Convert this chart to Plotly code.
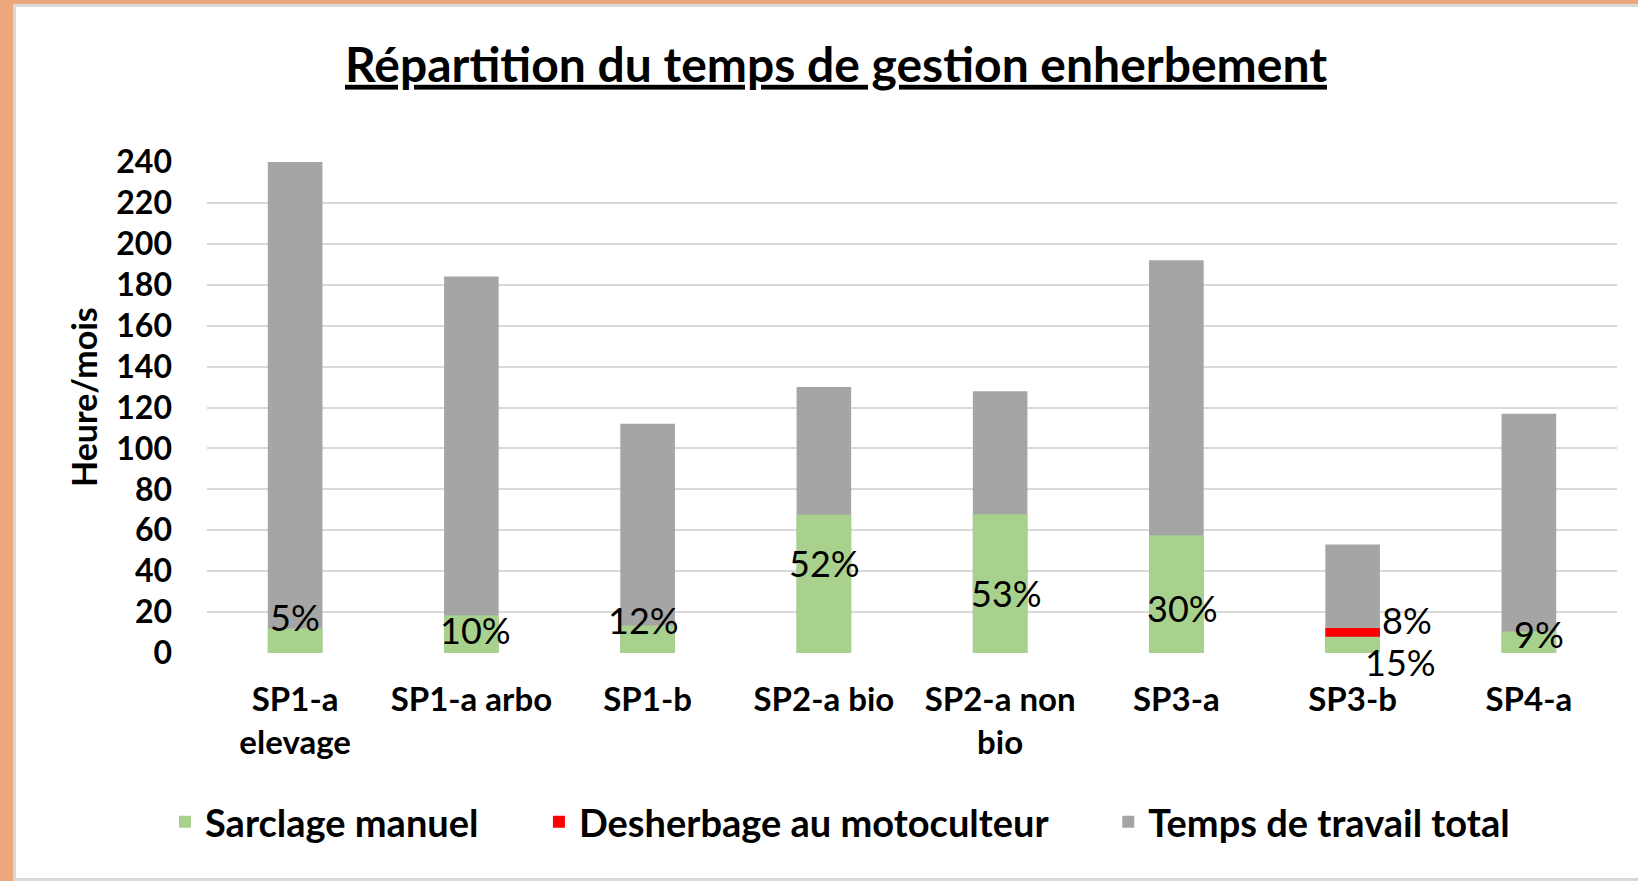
import plotly.graph_objects as go

categories = ["SP1-a<br>elevage", "SP1-a arbo", "SP1-b", "SP2-a bio", "SP2-a non<br>bio", "SP3-a", "SP3-b", "SP4-a"]
total_hours = [240, 184, 112, 130, 128, 192, 53, 117]
sarclage_hours = [12, 18.4, 13.4, 67.6, 67.8, 57.6, 8.0, 10.5]
desherbage_hours = [0, 0, 0, 0, 0, 0, 4.2, 0]
sarclage_labels = ["5%", "10%", "12%", "52%", "53%", "30%", "15%", "9%"]
desherbage_labels = ["", "", "", "", "", "", "8%", ""]
y_ticks = [0, 20, 40, 60, 80, 100, 120, 140, 160, 180, 200, 220, 240]

# label anchor heights (data units) and offsets (px), as placed on the original chart
sarclage_label_y = [17.4, 11.2, 15.9, 43.9, 29.1, 22.0, 0, 9.3]
sarclage_label_dy = [0, 0, 0, 0, 0, 0, -9, 0]
sarclage_label_dx = [0, 4, -4, 1, 6, 6, 48, 10]
desherbage_label_y = [None, None, None, None, None, None, 16.3, None]
desherbage_label_dx = [0, 0, 0, 0, 0, 0, 54, 0]

GREEN = "#A9D18E"
RED = "#FF0000"
GRAY = "#A5A5A5"
FONT = "Lato"
PAD = "\u00a0" * 6  # extra spacing between legend entries

W, H = 1638, 881
ML, MR, MT, MB = 207, 21, 162, 228
PW, PH = W - ML - MR, H - MT - MB

fig = go.Figure()
fig.add_trace(go.Bar(x=categories, y=total_hours, name="Temps de travail total",
                     marker=dict(color=GRAY, line=dict(width=0)), legendrank=3))
fig.add_trace(go.Bar(x=categories, y=sarclage_hours, name="Sarclage manuel" + PAD,
                     marker=dict(color=GREEN, line=dict(width=0)), legendrank=1))
fig.add_trace(go.Bar(x=categories, y=desherbage_hours, base=sarclage_hours,
                     name="Desherbage au motoculteur" + PAD,
                     marker=dict(color=RED, line=dict(width=0)), legendrank=2))

LBL_FONT = dict(family=FONT, size=36, color="#000")
annots = []
for i, c in enumerate(categories):
    annots.append(dict(x=c, y=sarclage_label_y[i], text=sarclage_labels[i], showarrow=False,
                       xshift=sarclage_label_dx[i], yshift=sarclage_label_dy[i], font=LBL_FONT))
    if desherbage_labels[i]:
        annots.append(dict(x=c, y=desherbage_label_y[i], text=desherbage_labels[i], showarrow=False,
                           xshift=desherbage_label_dx[i], font=LBL_FONT))


def px_x(p):
    return (p - ML) / PW


def px_y(p):
    return 1 - (p - MT) / PH


# y-axis title
annots.append(dict(text="Heure/mois", textangle=-90, showarrow=False,
                   xref="paper", yref="paper", x=px_x(83), y=px_y(397),
                   xanchor="center", yanchor="middle",
                   font=dict(family=FONT, size=34, weight="bold", color="#000")))

# frame of the chart area (white card with a light grey border on orange background)
shapes = [dict(type="rect", xref="paper", yref="paper",
               x0=px_x(14.5), x1=px_x(1645), y0=px_y(879.5), y1=px_y(5.5),
               fillcolor="white", line=dict(color="#D9D9D9", width=3), layer="below")]

fig.update_layout(
    width=W, height=H,
    margin=dict(l=ML, r=MR, t=MT, b=MB, autoexpand=False),
    paper_bgcolor="#ECA87C",
    plot_bgcolor="white",
    barmode="overlay",
    bargap=0.69,
    font=dict(family=FONT, color="#000"),
    title=dict(text="<u>Répartition du temps de gestion enherbement</u>",
               font=dict(family=FONT, size=48, weight="bold", color="#000"),
               x=836 / W, xref="container", xanchor="center",
               y=1 - 65 / H, yref="container", yanchor="middle"),
    xaxis=dict(showgrid=False, showline=False, ticks="", zeroline=False,
               tickfont=dict(family=FONT, size=33, weight="bold", color="#000"),
               ticklabelstandoff=24),
    yaxis=dict(range=[0, 240], tickvals=y_ticks, showgrid=True, gridcolor="#D9D9D9", gridwidth=2,
               zeroline=False, showline=False, ticks="",
               tickfont=dict(family=FONT, size=32, weight="bold", color="#000"),
               ticklabelstandoff=34),
    legend=dict(orientation="h", xref="container", x=840 / W, xanchor="center",
                yref="container", y=1 - 822 / H, yanchor="middle",
                font=dict(family=FONT, size=38, weight="bold", color="#000"),
                bgcolor="rgba(0,0,0,0)", traceorder="normal", itemwidth=30),
    annotations=annots,
    shapes=shapes,
    showlegend=True,
)

fig.write_html("out.html", config={"displayModeBar": False},
               post_script="document.body.style.margin='0px';document.body.style.overflow='hidden';")
